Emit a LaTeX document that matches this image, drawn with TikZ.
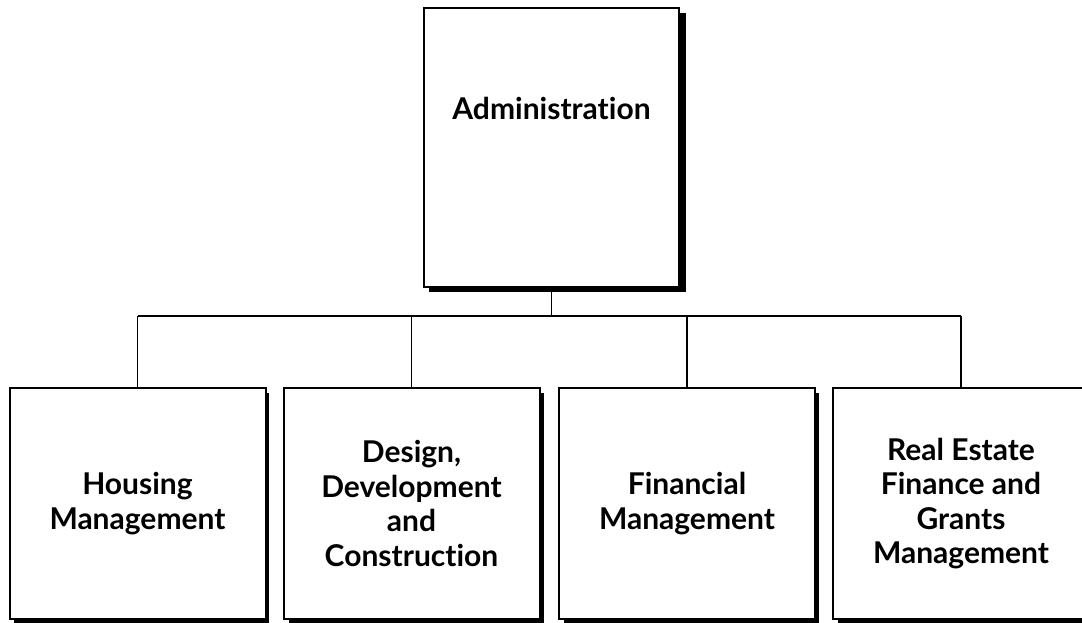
\documentclass[tikz,border=0pt]{standalone}
\usepackage{fontspec}
\setmainfont{Lato}[Ligatures={NoCommon}]
\begin{document}
\begin{tikzpicture}[x=1pt,y=-1pt,
  box/.style={draw=black,line width=2pt,fill=white,inner sep=0pt,
    minimum width=256pt,minimum height=231pt,align=center,
    font=\fontsize{30}{34.5}\selectfont\bfseries},
  topbox/.style={box,minimum width=255pt,minimum height=279pt},
  shade/.style={fill=black},
  conn/.style={draw=black,line width=1.5pt}]
\useasboundingbox (0,0) rectangle (1082,622);
\begin{scope}
\clip (0,0) rectangle (1082,622);
% shadows
\fill[shade] (429,13) rectangle (686,292);
\foreach \l in {9,284,559,833}{
  \fill[shade] (\l+5,393) rectangle (\l+260,626);
}
% boxes
\node[topbox] (adm) at (551.5,147.5) {};
\node[font=\fontsize{30}{34.5}\selectfont\bfseries] (admt) at (551.5,108) {Administration};
\node[box] (hm) at (137.5,503.5) {Housing\\Management};
\node[box] (ddc) at (411.5,503.5) {Design,\\Development\\and\\Construction};
\node[box] (fm) at (687,503.5) {Financial\\Management};
\node[box] (re) at (961,503.5) {Real Estate\\Finance and\\Grants\\Management};
\end{scope}
% connectors
\coordinate (j) at (adm.south |- 0,316);
\draw[conn] (adm.south) -- (j);
\draw[conn] (hm.north |- j) -- (re.north |- j);
\foreach \n in {hm,ddc,fm,re}{
  \draw[conn] (\n.north |- j) -- (\n.north);
}
\end{tikzpicture}
\end{document}
